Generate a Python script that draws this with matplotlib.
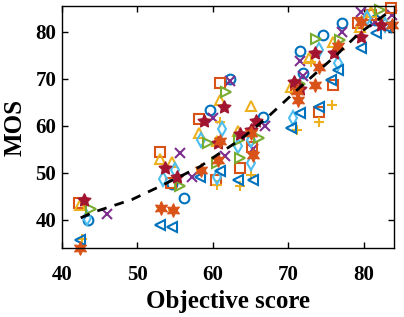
import matplotlib
matplotlib.use("Agg")
import matplotlib.pyplot as plt

plt.rcParams["font.family"] = ["Liberation Serif", "DejaVu Serif"]
plt.rcParams["font.weight"] = "bold"

# ── data ────────────────────────────────────────────────────
circle_x = [43.5, 54.6, 56.2, 59.7, 62.3, 66.7, 71.6, 71.9, 74.6, 77.1, 81.5]
circle_y = [40.0, 47.6, 44.7, 63.3, 70.0, 61.8, 76.0, 71.2, 79.4, 81.8, 82.5]

cross_x = [46.0, 55.6, 57.2, 60.0, 62.3, 61.6, 66.9, 65.3, 71.5, 72.0, 77.1, 79.7, 83.8, 81.5]
cross_y = [41.3, 54.2, 49.2, 61.6, 69.6, 53.5, 60.0, 55.0, 73.9, 70.6, 79.9, 84.3, 83.5, 82.0]

square_x = [42.3, 53.0, 54.5, 58.2, 60.9, 60.4, 63.6, 65.2, 71.0, 74.1, 75.9, 79.2, 83.6, 81.0]
square_y = [43.5, 54.5, 47.8, 61.4, 69.1, 48.5, 51.0, 55.5, 68.0, 63.0, 68.7, 81.8, 85.0, 83.5]

tri_up_x = [42.4, 53.0, 54.6, 58.2, 60.9, 60.5, 63.3, 65.1, 70.4, 72.8, 75.9, 81.0, 79.5]
tri_up_y = [43.2, 52.9, 52.2, 58.4, 65.5, 56.8, 58.8, 64.3, 68.2, 74.4, 77.9, 84.3, 81.0]

plus_x = [42.7, 53.2, 54.7, 58.4, 60.5, 60.9, 63.6, 65.1, 71.1, 74.1, 75.8, 73.0, 79.5, 82.5]
plus_y = [35.9, 42.8, 42.0, 50.6, 47.4, 60.9, 47.2, 49.6, 59.1, 60.9, 64.5, 73.5, 79.0, 82.5]

diamond_x = [43.3, 53.4, 55.0, 58.5, 61.2, 60.5, 63.4, 65.1, 65.1, 70.6, 74.1, 76.6, 80.5, 82.8]
diamond_y = [40.3, 48.7, 50.5, 57.0, 59.4, 49.2, 55.6, 52.1, 57.0, 61.6, 76.2, 73.3, 83.0, 81.5]

tri_left_x = [42.4, 53.0, 54.6, 58.3, 60.9, 63.4, 65.3, 70.4, 71.5, 74.1, 75.7, 76.6, 79.7, 81.6, 83.0]
tri_left_y = [35.6, 38.9, 38.4, 49.2, 50.3, 48.5, 48.5, 59.5, 62.7, 64.1, 69.8, 71.9, 76.5, 79.7, 81.0]

tri_right_x = [43.9, 55.7, 59.4, 61.7, 63.6, 66.1, 63.5, 71.5, 73.7, 76.8, 82.1, 60.5]
tri_right_y = [42.3, 47.1, 56.4, 67.1, 53.1, 57.4, 57.0, 69.0, 78.4, 78.3, 84.7, 52.0]

star_x = [43.0, 53.7, 55.2, 58.8, 61.5, 60.7, 63.6, 65.1, 65.7, 70.8, 71.5, 73.5, 76.1, 79.7, 82.3]
star_y = [44.1, 51.0, 49.2, 61.1, 64.0, 56.3, 58.3, 59.1, 61.1, 69.4, 67.8, 75.5, 75.5, 79.0, 81.5]

hexa_x = [42.4, 53.2, 54.7, 58.4, 60.7, 60.9, 65.3, 65.1, 71.3, 71.1, 73.5, 74.1, 76.6, 79.7, 83.8]
hexa_y = [34.0, 42.6, 42.1, 50.6, 52.8, 56.7, 53.8, 58.5, 65.5, 67.3, 68.7, 72.6, 76.9, 82.2, 81.5]

fit_x = [42.5, 44.2, 49.3, 53.0, 58.3, 60.3, 63.6, 67.1, 71.7, 76.4, 79.4, 83.4]
fit_y = [40.4, 41.6, 44.3, 47.1, 51.3, 53.5, 57.0, 61.6, 68.4, 75.1, 79.7, 84.3]

x_ticks = [40, 50, 60, 70, 80]
y_ticks = [40, 50, 60, 70, 80]

# MATLAB 默认配色
BLUE, ORANGE, YELLOW = "#0072BD", "#D95319", "#EDB120"
PURPLE, GREEN, CYAN, RED = "#7E2F8E", "#77AC30", "#4DBEEE", "#A2142F"

PENTAGRAM = (5, 1, 0)
HEXAGRAM = (6, 1, 0)

series = [
    (circle_x, circle_y, "o", BLUE, False),
    (cross_x, cross_y, "x", PURPLE, False),
    (square_x, square_y, "s", ORANGE, False),
    (tri_up_x, tri_up_y, "^", YELLOW, False),
    (plus_x, plus_y, "+", YELLOW, False),
    (diamond_x, diamond_y, "d", CYAN, False),
    (tri_left_x, tri_left_y, "<", BLUE, False),
    (tri_right_x, tri_right_y, ">", GREEN, False),
    (star_x, star_y, PENTAGRAM, RED, True),
    (hexa_x, hexa_y, HEXAGRAM, ORANGE, True),
]

fig = plt.figure(figsize=(4.04, 3.17), dpi=100)
ax = fig.add_axes([0.153, 0.218, 0.822, 0.763])

for xs, ys, mk, col, filled in series:
    ax.plot(xs, ys, linestyle="none", marker=mk, markersize=7 if not filled else 10,
            markeredgecolor=col, markerfacecolor=col if filled else "none",
            markeredgewidth=1.5 if not filled else 0.8, clip_on=False)

ax.plot(fit_x, fit_y, color="black", linewidth=2, linestyle=(0, (3.5, 3)))

ax.set_xlim(40, 84)
ax.set_ylim(34, 85.5)
ax.set_xticks(x_ticks)
ax.set_yticks(y_ticks)
ax.tick_params(direction="in", top=True, right=True, length=4, width=1,
               labelsize=15)
ax.tick_params(axis="x", pad=12)
ax.tick_params(axis="y", pad=4)
for s in ax.spines.values():
    s.set_linewidth(1)
ax.set_xlabel("Objective score", fontsize=18, fontweight="bold", labelpad=4)
ax.set_ylabel("MOS", fontsize=18, fontweight="bold", labelpad=6)

fig.savefig("out.png", dpi=100)
